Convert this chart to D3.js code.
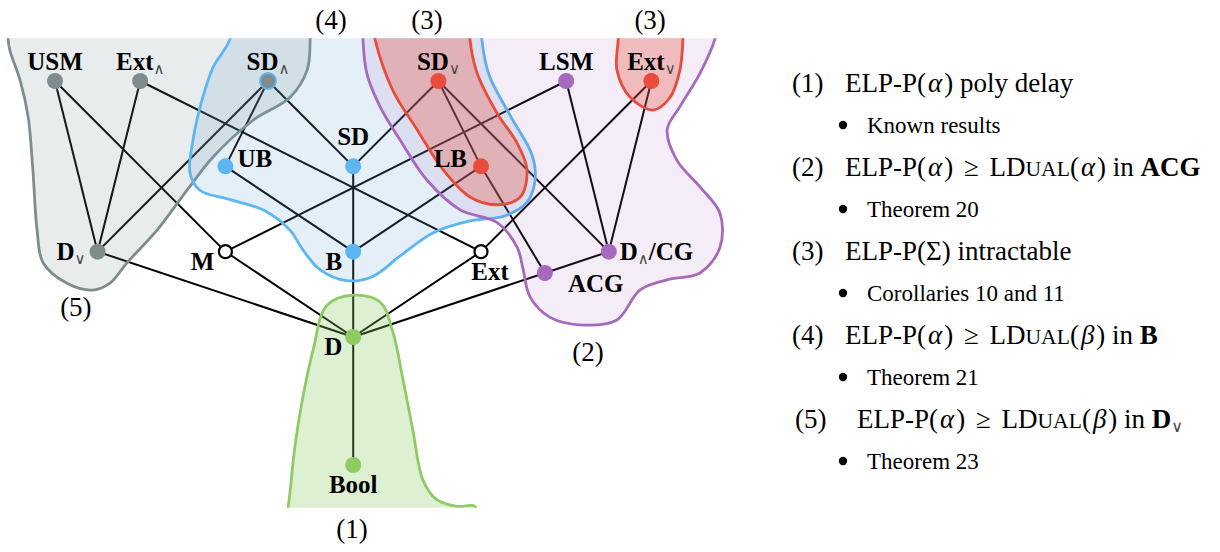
<!DOCTYPE html>
<html>
<head>
<meta charset="utf-8">
<script src="https://cdn.jsdelivr.net/npm/d3@7"></script>
<style>
  html, body { margin: 0; background: #fff; }
  svg { display: block; font-family: "Liberation Serif", "Times New Roman", serif; }
</style>
</head>
<body>
<div id="chart"></div>
<script>
// Lattice nodes: column and level in the Hasse diagram grid
const nodes = [
  { id: 'USM', col: 0, lev: 0, group: 5, label: 'USM', place: 'above' },
  { id: 'ExtA', col: 2, lev: 0, group: 5, label: 'Ext_∧', place: 'above' },
  { id: 'SDA', col: 5, lev: 0, group: 5, ring: 4, label: 'SD_∧', place: 'above' },
  { id: 'SDV', col: 9, lev: 0, group: 3, label: 'SD_∨', place: 'above' },
  { id: 'LSM', col: 12, lev: 0, group: 2, label: 'LSM', place: 'above' },
  { id: 'ExtV', col: 14, lev: 0, group: 3, label: 'Ext_∨', place: 'above' },
  { id: 'UB', col: 4, lev: 1, group: 4, label: 'UB', place: 'right' },
  { id: 'SD', col: 7, lev: 1, group: 4, label: 'SD', place: 'aboveFar' },
  { id: 'LB', col: 10, lev: 1, group: 3, label: 'LB', place: 'left' },
  { id: 'DV', col: 1, lev: 2, group: 5, label: 'D_∨', place: 'leftLow' },
  { id: 'M', col: 4, lev: 2, group: 0, label: 'M', place: 'belowLeft' },
  { id: 'B', col: 7, lev: 2, group: 4, label: 'B', place: 'belowLeft' },
  { id: 'Ext', col: 10, lev: 2, group: 0, label: 'Ext', place: 'belowRight' },
  { id: 'ACG', col: 11.5, lev: 2.25, group: 2, label: 'ACG', place: 'rightBelow' },
  { id: 'DCG', col: 13, lev: 2, group: 2, label: 'D_∧/CG', place: 'rightLow' },
  { id: 'D', col: 7, lev: 3, group: 1, label: 'D', place: 'belowLeft' },
  { id: 'Bool', col: 7, lev: 4.5, group: 1, label: 'Bool', place: 'below' }
];

const edges = [
  ['USM', 'DV'], ['USM', 'M'], ['ExtA', 'DV'], ['ExtA', 'Ext'],
  ['SDA', 'DV'], ['SDA', 'UB'], ['SDA', 'SD'], ['SD', 'B'], ['SD', 'SDV'],
  ['UB', 'B'], ['M', 'LSM'], ['B', 'LB'], ['SDV', 'LB'], ['SDV', 'DCG'],
  ['LB', 'ACG'], ['LSM', 'DCG'], ['ExtV', 'DCG'], ['Ext', 'ExtV'],
  ['DCG', 'ACG'], ['ACG', 'D'], ['Ext', 'D'], ['B', 'D'], ['M', 'D'],
  ['DV', 'D'], ['D', 'Bool']
];

// Region outlines, in the same column / level units
const outline5 = [[-1.1, -0.75], [-1.1, -0.49], [-1.06, -0.36], [-0.82, -0.01], [-0.63, 0.42],
  [-0.52, 1.04], [-0.42, 1.75], [-0.28, 2.13], [0.28, 2.37], [0.89, 2.45], [1.29, 2.37],
  [1.69, 2.13], [2.39, 1.75], [3.10, 1.28], [3.71, 0.89], [4.65, 0.46], [5.52, 0.19],
  [5.92, -0.13], [5.99, -0.49], [5.99, -0.75]];
const outline4 = [[4.15, -0.72], [4.11, -0.49], [3.71, -0.16], [3.47, 0.19], [3.24, 0.69],
  [3.17, 1.08], [3.40, 1.28], [4.11, 1.39], [4.88, 1.51], [5.52, 1.75], [5.82, 1.98],
  [6.22, 2.21], [6.85, 2.34], [7.46, 2.29], [8.10, 2.05], [8.87, 1.78], [9.74, 1.64],
  [10.56, 1.58], [11.08, 1.42], [11.27, 1.16], [11.20, 0.87], [10.68, 0.40], [10.19, -0.07],
  [10.02, -0.49], [10.02, -0.72]];
const outline2 = [[7.23, -0.72], [7.23, -0.49], [7.32, -0.09], [7.63, 0.30], [8.10, 0.69],
  [8.73, 1.16], [9.51, 1.51], [10.38, 1.66], [10.85, 1.95], [10.99, 2.21], [11.15, 2.53],
  [11.62, 2.77], [12.39, 2.86], [13.19, 2.80], [13.73, 2.45], [14.37, 2.33], [15.14, 2.25],
  [15.61, 1.95], [15.61, 1.55], [15.14, 1.24], [14.60, 0.93], [14.37, 0.57], [14.67, 0.30],
  [15.14, -0.09], [15.49, -0.49], [15.56, -0.72]];
const outline3a = [[7.44, -0.72], [7.51, -0.49], [7.93, 0.11], [8.50, 0.57], [9.11, 1.04],
  [9.74, 1.36], [10.38, 1.45], [10.92, 1.36], [11.08, 1.04], [10.85, 0.73], [10.38, 0.38],
  [9.91, -0.09], [9.74, -0.49], [9.74, -0.72]];
const outline3b = [[13.22, -0.72], [13.22, -0.49], [13.19, -0.13], [13.50, 0.19], [14.04, 0.34],
  [14.44, 0.19], [14.67, -0.13], [14.74, -0.49], [14.74, -0.72]];
const outline1 = [[5.40, 5.14], [5.47, 5.0], [5.63, 4.29], [5.82, 3.70], [6.06, 3.15],
  [6.38, 2.63], [7.00, 2.51], [7.63, 2.59], [7.93, 2.94], [8.17, 3.50], [8.40, 4.09],
  [8.64, 4.68], [8.97, 4.91], [9.44, 4.985], [9.86, 4.985], [9.86, 5.14]];

const regions = [
  { group: 5, outline: outline5 },
  { group: 4, outline: outline4 },
  { group: 2, outline: outline2 },
  { group: 3, outline: outline3a },
  { group: 3, outline: outline3b },
  { group: 1, outline: outline1 }
];

// Region tags "(n)" and where they sit
const tagNames = ['(1)', '(2)', '(3)', '(3)', '(4)', '(5)'];
const tagSpots = [[6.97, 5.35], [12.51, 3.28], [8.73, -0.61], [13.97, -0.61], [6.48, -0.61], [0.49, 2.75]];

// Legend
const legendNums = ['(1)', '(2)', '(3)', '(4)', '(5)'];
const legendClaims = [
  'ELP-P(*α*) poly delay',
  'ELP-P(*α*) ≥ LD{ual}(*α*) in **ACG**',
  'ELP-P(Σ) intractable',
  'ELP-P(*α*) ≥ LD{ual}(*β*) in **B**',
  'ELP-P(*α*) ≥ LD{ual}(*β*) in **D**_∨'
];
const legendNotes = ['Known results', 'Theorem 20', 'Corollaries 10 and 11', 'Theorem 21', 'Theorem 23'];

const colors = { 1: '#8fcb64', 2: '#a569bd', 3: '#e74c3c', 4: '#5bb6f2', 5: '#7f8c8d' };
const fills = { 1: ['#8fcb64', 0.29], 2: ['#a569bd', 0.12], 3: ['#e74c3c', 0.31], 4: ['#6aa7d0', 0.18], 5: ['#7f8c8d', 0.17] };

const places = {
  above: { anchor: 'middle', dx: 0, dy: -11 },
  aboveFar: { anchor: 'middle', dx: 0, dy: -21 },
  right: { anchor: 'start', dx: 12, dy: 1 },
  rightLow: { anchor: 'start', dx: 11, dy: 8 },
  rightBelow: { anchor: 'start', dx: 23, dy: 19 },
  left: { anchor: 'end', dx: -14, dy: 1 },
  leftLow: { anchor: 'end', dx: -12, dy: 8 },
  belowLeft: { anchor: 'end', dx: -11, dy: 18 },
  below: { anchor: 'middle', dx: 0, dy: 28 },
  belowRight: { anchor: 'middle', dx: 9, dy: 28 }
};

const W = 1220, H = 552;
const x = d3.scaleLinear().domain([0, 14]).range([55, 651.4]);
const y = d3.scaleLinear().domain([0, 4.5]).range([81, 465]);

const svg = d3.select('#chart').append('svg')
  .attr('width', W).attr('height', H);

svg.append('defs').append('clipPath').attr('id', 'clip')
  .append('rect')
  .attr('x', 0).attr('y', y(-0.5))
  .attr('width', W).attr('height', y(5) - y(-0.5));

// rich text: **bold**, *italic*, {smallcaps}, _sub, and math spacing round ≥
const rich = (text, str, size, subSize, subFont) => {
  const tokens = str.split(/(\*\*[^*]+\*\*|\*[^*]+\*|\{[^}]+\}|_.|≥)/).filter(s => s);
  let back = 0;
  let gap = 0;
  tokens.forEach((t) => {
    let ts;
    let after = 0;
    if (t.startsWith('**')) {
      ts = text.append('tspan').attr('font-weight', 'bold').text(t.slice(2, -2));
    } else if (t.startsWith('*')) {
      ts = text.append('tspan').attr('font-style', 'italic').attr('dx', 2).text(t.slice(1, -1));
      after = 2;
    } else if (t.startsWith('{')) {
      ts = text.append('tspan').attr('font-size', size * 0.8).text(t.slice(1, -1).toUpperCase());
    } else if (t === '≥') {
      ts = text.append('tspan').attr('dx', 4).text(t);
      after = 4;
    } else if (t.startsWith('_')) {
      ts = text.append('tspan')
        .attr('font-size', subSize).attr('font-weight', 'normal')
        .attr('font-family', subFont).attr('fill', '#444')
        .attr('dy', 4 - back).text(t.slice(1));
      back = 4;
      gap = 0;
      return;
    } else {
      ts = text.append('tspan').text(t);
    }
    if (back) { ts.attr('dy', -back); back = 0; }
    if (gap) { ts.attr('dx', (+ts.attr('dx') || 0) + gap); }
    gap = after;
  });
};

const byId = new Map(nodes.map(n => [n.id, n]));

// edges
svg.append('g').selectAll('line')
  .data(edges)
  .enter()
  .append('line')
  .attr('x1', d => x(byId.get(d[0]).col))
  .attr('y1', d => y(byId.get(d[0]).lev))
  .attr('x2', d => x(byId.get(d[1]).col))
  .attr('y2', d => y(byId.get(d[1]).lev))
  .attr('stroke', '#000')
  .attr('stroke-width', 2);

// regions
const blob = d3.line()
  .x(d => x(d[0]))
  .y(d => y(d[1]))
  .curve(d3.curveCatmullRom.alpha(0.5));

svg.append('g').attr('clip-path', 'url(#clip)')
  .selectAll('path')
  .data(regions)
  .enter()
  .append('path')
  .attr('d', d => blob(d.outline) + 'Z')
  .attr('fill', d => fills[d.group][0])
  .attr('fill-opacity', d => fills[d.group][1])
  .attr('stroke', d => colors[d.group])
  .attr('stroke-width', 2.8);

// nodes
svg.append('g').selectAll('circle')
  .data(nodes)
  .enter()
  .append('circle')
  .attr('cx', d => x(d.col))
  .attr('cy', d => y(d.lev))
  .attr('r', d => (d.group ? 8 : 6.5))
  .attr('fill', d => (d.group ? colors[d.group] : '#fff'))
  .attr('stroke', d => (d.ring ? colors[d.ring] : d.group ? 'none' : '#000'))
  .attr('stroke-width', d => (d.ring ? 1.8 : 2.2));

// node labels
svg.append('g').selectAll('text')
  .data(nodes)
  .enter()
  .append('text')
  .attr('x', d => x(d.col) + places[d.place].dx)
  .attr('y', d => y(d.lev) + places[d.place].dy)
  .attr('text-anchor', d => places[d.place].anchor)
  .attr('font-size', 25)
  .attr('font-weight', 'bold')
  .each(function (d) { // eslint-disable-line
    rich(d3.select(this), d.label, 25, 15, 'DejaVu Serif');
  });

// region tags
svg.append('g').selectAll('text')
  .data(tagNames)
  .enter()
  .append('text')
  .attr('x', (d, i) => x(tagSpots[i][0]))
  .attr('y', (d, i) => y(tagSpots[i][1]))
  .attr('text-anchor', 'middle')
  .attr('font-size', 27)
  .text(d => d);

// legend
const legend = svg.append('g');
const claimY = i => 92 + 84 * i;
const noteY = i => 133 + 84 * i;

legend.selectAll('text.num')
  .data(legendNums)
  .enter()
  .append('text')
  .attr('class', 'num')
  .attr('x', (d, i) => (i === 4 ? 795 : 792))
  .attr('y', (d, i) => claimY(i))
  .attr('font-size', 27)
  .text(d => d);

legend.selectAll('text.claim')
  .data(legendClaims)
  .enter()
  .append('text')
  .attr('class', 'claim')
  .attr('x', (d, i) => (i === 4 ? 857 : 845))
  .attr('y', (d, i) => claimY(i))
  .attr('font-size', 27)
  .each(function (d) { // eslint-disable-line
    rich(d3.select(this), d, 27, 16, 'DejaVu Serif');
  });

legend.selectAll('circle')
  .data(legendNotes)
  .enter()
  .append('circle')
  .attr('cx', 843)
  .attr('cy', (d, i) => noteY(i) - 8)
  .attr('r', 4.2)
  .attr('fill', '#000');

legend.selectAll('text.note')
  .data(legendNotes)
  .enter()
  .append('text')
  .attr('class', 'note')
  .attr('x', 867)
  .attr('y', (d, i) => noteY(i))
  .attr('font-size', 23)
  .text(d => d);
</script>
</body>
</html>
